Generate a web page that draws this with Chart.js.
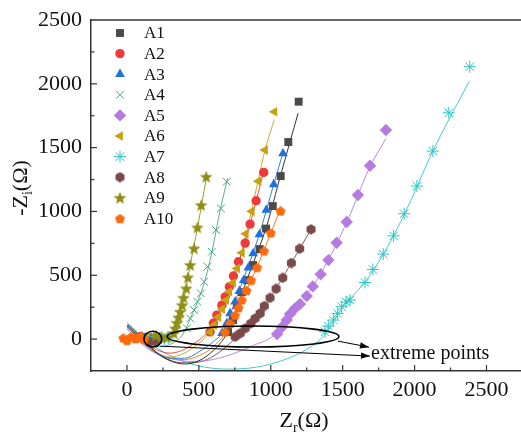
<!DOCTYPE html>
<html><head><meta charset="utf-8">
<script src="https://cdn.jsdelivr.net/npm/chart.js@4.4.0/dist/chart.umd.min.js"></script>
<style>html,body{margin:0;padding:0;background:#fff;}#wrap{width:521px;height:439px;}</style>
</head><body><div id="wrap"><canvas id="c" width="521" height="439"></canvas></div>
<script>
// ---- categories / labels ----
const seriesNames = ['A1','A2','A3','A4','A5','A6','A7','A8','A9','A10'];
const xTickLabels = [0,500,1000,1500,2000,2500];
const yTickLabels = [0,500,1000,1500,2000,2500];
const xTitle = ['Z','r','(Ω)'];
const yTitle = ['-Z','i','(Ω)'];
const noteText = 'extreme points';

// ---- measured points [Zr, -Zi] ----
const A1 = [[150,10],[185,5],[215,-5],[703,55],[738,149],[766,266],[800,368],[835,462],[877,580],[922,705],[967,866],[1014,1042],[1069,1277],[1122,1544],[1194,1860]];
const A2 = [[95,20],[135,10],[170,0],[578,57],[601,125],[625,188],[660,266],[683,331],[712,410],[740,494],[775,606],[822,752],[856,901],[898,1084],[951,1306]];
const A3 = [[120,10],[170,5],[220,0],[662,47],[694,123],[717,201],[752,292],[782,376],[812,462],[844,560],[877,670],[921,819],[969,1011],[1021,1212],[1085,1454]];
const A4 = [[80,30],[130,15],[180,5],[417,84],[440,162],[467,227],[490,292],[514,358],[537,449],[560,567],[590,684],[620,854],[653,1024],[694,1233]];
const A5 = [[150,-20],[190,-10],[225,0],[1044,39],[1078,94],[1111,149],[1134,196],[1169,241],[1203,274],[1250,337],[1292,413],[1347,508],[1401,619],[1458,755],[1528,917],[1606,1129],[1690,1358],[1801,1638]];
const A6 = [[90,20],[140,10],[180,0],[578,55],[606,110],[634,172],[662,235],[690,306],[712,371],[738,441],[766,554],[799,676],[826,825],[868,1001],[914,1237],[960,1481],[1025,1781]];
const A7 = [[185,20],[225,10],[260,0],[290,10],[1377,57],[1400,102],[1435,149],[1465,201],[1493,253],[1523,290],[1551,306],[1655,443],[1710,546],[1782,666],[1854,809],[1928,982],[2016,1199],[2127,1473],[2238,1773],[2384,2134]];
const A8 = [[160,-20],[200,-15],[752,18],[787,45],[822,84],[861,123],[891,162],[926,201],[955,259],[995,323],[1037,394],[1083,480],[1143,596],[1201,708],[1280,860]];
const A9 = [[200,30],[240,20],[280,15],[325,47],[335,84],[347,128],[358,170],[370,214],[384,266],[393,324],[412,397],[424,484],[440,580],[467,711],[490,875],[516,1050],[551,1272]];
const A10 = [[-25,10],[0,-10],[30,20],[60,5],[90,15],[120,0],[683,57],[717,123],[752,188],[775,247],[799,308],[831,382],[863,462],[905,562],[953,692],[1000,833],[1068,1005]];

// ---- fitted curves ----
const A1fit = [[5,115],[100,15],[200,-100],[300,-170],[400,-195],[500,-170],[600,-90],[680,15],[740,150],[800,360],[880,600],[970,880],[1070,1290],[1190,1770]];
const A2fit = [[0,100],[100,0],[200,-80],[300,-110],[380,-90],[460,-40],[540,30],[600,120],[660,270],[740,500],[820,750],[900,1090],[955,1330]];
const A3fit = [[0,110],[100,5],[200,-100],[300,-150],[400,-150],[500,-100],[600,-20],[670,60],[750,290],[840,560],[920,820],[1020,1210],[1090,1480]];
const A4fit = [[0,90],[80,20],[160,-40],[240,-60],[320,-30],[390,40],[440,160],[490,290],[540,450],[590,680],[650,1020],[700,1260]];
const A5fit = [[0,80],[150,-80],[300,-150],[450,-175],[600,-160],[750,-110],[900,-40],[1000,10],[1080,100],[1170,240],[1290,410],[1400,620],[1530,920],[1690,1350],[1800,1570]];
const A6fit = [[0,100],[100,-10],[200,-110],[300,-140],[400,-110],[480,-50],[550,20],[620,150],[700,360],[770,570],[830,830],[910,1230],[960,1480],[1025,1720]];
const A7fit = [[0,130],[150,-20],[300,-130],[500,-210],[700,-235],[900,-220],[1100,-160],[1250,-80],[1380,40],[1500,250],[1650,440],[1780,660],[1930,980],[2130,1480],[2380,2020]];
const A8fit = [[0,100],[120,-40],[250,-140],[380,-185],[500,-180],[620,-120],[720,-30],[790,50],[890,160],[1000,330],[1140,590],[1280,860]];
const A9fit = [[0,100],[80,30],[160,-20],[230,-30],[290,0],[330,60],[370,210],[410,390],[440,580],[490,870],[550,1250]];
const A10fit = [[0,110],[100,0],[200,-100],[300,-150],[400,-160],[500,-130],[600,-60],[680,40],[750,180],[830,380],[910,580],[1000,830],[1075,1040]];

// ---- annotation anchors (data units) ----
const smallCircle = {cx:180, cy:0, rx:62, ry:62};
const bigEllipse = {cx:877, cy:20, rx:597, ry:82};
const arrow1 = {from:[1467,-16], to:[1683,-63]};
const arrow2 = {from:[232,-55], to:[1690,-133]};
const noteAnchor = [1697,-157];

const FONT = "'Liberation Serif','Times New Roman',serif";

function shapeCanvas(kind, color, size){
  const c = document.createElement('canvas');
  c.width = size; c.height = size;
  const g = c.getContext('2d');
  const cx = size/2, cy = size/2, R = size/2 - 0.3;
  g.fillStyle = color; g.beginPath();
  if (kind === 'hex') {
    for (let i=0;i<6;i++){const a=Math.PI/6+i*Math.PI/3; g.lineTo(cx+R*Math.cos(a), cy+R*Math.sin(a));}
  } else if (kind === 'pent') {
    for (let i=0;i<5;i++){const a=-Math.PI/2+i*2*Math.PI/5; g.lineTo(cx+R*Math.cos(a), cy+R*Math.sin(a)+0.6);}
  } else if (kind === 'star') {
    for (let i=0;i<10;i++){const a=-Math.PI/2+i*Math.PI/5; const r=(i%2===0)?R:R*0.42; g.lineTo(cx+r*Math.cos(a), cy+r*Math.sin(a)+0.6);}
  }
  g.closePath(); g.fill();
  return c;
}

const styles = [
  {color:'#4a4a4a', line:'#1e1e1e', ps:'rect', r:5.6},
  {color:'#f03a3a', line:'#f03a3a', ps:'circle', r:4.7},
  {color:'#1f6fde', line:'#1f6fde', ps:'triangle', r:5.6},
  {color:'#45a880', line:'#45a880', ps:'crossRot', r:5.5, bw:1},
  {color:'#b57be0', line:'#b57be0', ps:'rectRot', r:6.2},
  {color:'#c9a00e', line:'#c9a00e', ps:'triangle', r:5.6, rot:-90},
  {color:'#2fc5c5', line:'#2fc5c5', ps:'star', r:6, bw:1},
  {color:'#7b4a4a', line:'#7b4a4a', ps:shapeCanvas('hex','#7b4a4a',11), r:5},
  {color:'#8e8e14', line:'#8e8e14', ps:shapeCanvas('star','#8e8e14',14), r:6},
  {color:'#ff6a0d', line:'#ff6a0d', ps:shapeCanvas('pent','#ff6a0d',11), r:5}
];
const pts = [A1,A2,A3,A4,A5,A6,A7,A8,A9,A10];
const fits = [A1fit,A2fit,A3fit,A4fit,A5fit,A6fit,A7fit,A8fit,A9fit,A10fit];
const toXY = arr => arr.map(p => ({x:p[0], y:p[1]}));

const datasets = [];
fits.forEach((f,i) => datasets.push({
  label: seriesNames[i]+' fit', data: toXY(f), showLine:true, pointRadius:0,
  borderColor: styles[i].line, borderWidth:0.9, cubicInterpolationMode:'monotone', order:2, fill:false
}));
pts.forEach((p,i) => datasets.push({
  label: seriesNames[i], data: toXY(p), showLine:false,
  pointStyle: styles[i].ps, pointRadius: styles[i].r, pointRotation: styles[i].rot || 0,
  pointBackgroundColor: styles[i].color, pointBorderColor: styles[i].color,
  pointBorderWidth: styles[i].bw || 0, order: 1 + (10-i)*0.01
}));

function drawRich(ctx, parts, size){
  const subSize = Math.round(size*0.62);
  ctx.font = size+'px '+FONT; const w0 = ctx.measureText(parts[0]).width; const w2 = ctx.measureText(parts[2]).width;
  ctx.font = subSize+'px '+FONT; const w1 = ctx.measureText(parts[1]).width;
  const total = w0+w1+w2; let x = -total/2;
  ctx.textBaseline = 'alphabetic'; ctx.textAlign = 'left';
  ctx.font = size+'px '+FONT; ctx.fillText(parts[0], x, 0); x += w0;
  ctx.font = subSize+'px '+FONT; ctx.fillText(parts[1], x, size*0.22); x += w1;
  ctx.font = size+'px '+FONT; ctx.fillText(parts[2], x, 0);
}

const decor = {
  id:'decor',
  afterDraw(chart){
    const ctx = chart.ctx, xs = chart.scales.x, ys = chart.scales.y, a = chart.chartArea;
    ctx.save();
    ctx.strokeStyle = '#333'; ctx.lineWidth = 1.5;
    ctx.beginPath(); ctx.moveTo(a.left, a.top); ctx.lineTo(a.right, a.top); ctx.stroke();
    ctx.lineWidth = 1.2;
    for (let v=-250; v<=xs.max; v+=250){
      if (v<=xs.min) continue;
      const px = xs.getPixelForValue(v), len = (v%500===0)?6:3.5;
      ctx.beginPath(); ctx.moveTo(px, a.bottom); ctx.lineTo(px, a.bottom-len); ctx.stroke();
    }
    for (let v=-250; v<ys.max; v+=250){
      if (v<=ys.min) continue;
      const py = ys.getPixelForValue(v), len = (v%500===0)?6:3.5;
      ctx.beginPath(); ctx.moveTo(a.left, py); ctx.lineTo(a.left+len, py); ctx.stroke();
    }
    const X = v => xs.getPixelForValue(v), Y = v => ys.getPixelForValue(v);
    ctx.strokeStyle = '#000'; ctx.lineWidth = 1.6;
    [smallCircle, bigEllipse].forEach(e => {
      const cx = X(e.cx), cy = Y(e.cy);
      const rx = Math.abs(X(e.cx+e.rx)-cx), ry = Math.abs(Y(e.cy+e.ry)-cy);
      ctx.beginPath(); ctx.ellipse(cx, cy, rx, ry, 0, 0, Math.PI*2); ctx.stroke();
    });
    ctx.lineWidth = 1;
    [arrow1, arrow2].forEach(ar => {
      const x1 = X(ar.from[0]), y1 = Y(ar.from[1]), x2 = X(ar.to[0]), y2 = Y(ar.to[1]);
      ctx.beginPath(); ctx.moveTo(x1,y1); ctx.lineTo(x2,y2); ctx.stroke();
      const ang = Math.atan2(y2-y1, x2-x1), L = 9, W = 3.2;
      ctx.beginPath(); ctx.moveTo(x2,y2);
      ctx.lineTo(x2 - L*Math.cos(ang) + W*Math.sin(ang), y2 - L*Math.sin(ang) - W*Math.cos(ang));
      ctx.lineTo(x2 - L*Math.cos(ang) - W*Math.sin(ang), y2 - L*Math.sin(ang) + W*Math.cos(ang));
      ctx.closePath(); ctx.fillStyle = '#000'; ctx.fill();
    });
    ctx.fillStyle = '#111'; ctx.font = '20px '+FONT; ctx.textAlign='left'; ctx.textBaseline='alphabetic';
    ctx.fillText(noteText, X(noteAnchor[0]), Y(noteAnchor[1]));
    ctx.font = '17px '+FONT; ctx.textBaseline = 'middle';
    seriesNames.forEach((n,i) => {
      const ly = 33 + i*20.6, s = styles[i];
      ctx.fillStyle = s.color; ctx.strokeStyle = s.color; ctx.lineWidth = s.bw || 0;
      Chart.helpers.drawPoint(ctx, {pointStyle:s.ps, radius:s.r, rotation:s.rot||0, borderWidth:s.bw||0}, 120, ly);
      ctx.fillStyle = '#111'; ctx.fillText(n, 144, ly+1);
    });
    ctx.fillStyle = '#111';
    ctx.save(); ctx.translate(304, 427); drawRich(ctx, xTitle, 22); ctx.restore();
    ctx.save(); ctx.translate(27, 188); ctx.rotate(-Math.PI/2); drawRich(ctx, yTitle, 22); ctx.restore();
    ctx.restore();
  }
};

new Chart(document.getElementById('c'), {
  type:'scatter',
  data:{datasets},
  options:{
    responsive:false, animation:false,
    layout:{autoPadding:false, padding:{top:20,right:0,left:0,bottom:0}},
    plugins:{legend:{display:false}, tooltip:{enabled:false}},
    scales:{
      x:{type:'linear', min:-250, max:2740, position:'bottom',
         grid:{display:false, drawTicks:false},
         border:{display:true, color:'#333', width:1.5},
         afterBuildTicks:s => { s.ticks = xTickLabels.map(v => ({value:v})); },
         ticks:{maxRotation:0, autoSkip:false, padding:6, color:'#111',
                font:{family:FONT, size:22}, callback:v => String(v)},
         afterFit:s => { s.height = 68; s.paddingLeft = 0; s.paddingRight = 0; }},
      y:{type:'linear', min:-250, max:2500,
         grid:{display:false, drawTicks:false},
         border:{display:true, color:'#333', width:1.5},
         afterBuildTicks:s => { s.ticks = yTickLabels.map(v => ({value:v})); },
         ticks:{autoSkip:false, padding:9, color:'#111',
                font:{family:FONT, size:22}, callback:v => String(v)},
         afterFit:s => { s.width = 91; s.paddingTop = 0; s.paddingBottom = 0; }}
    }
  },
  plugins:[decor]
});
</script></body></html>
